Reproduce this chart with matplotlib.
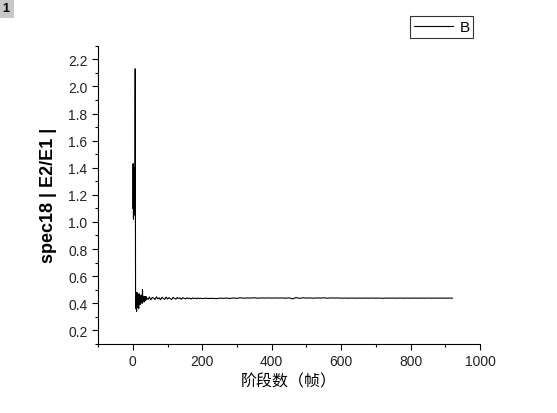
import numpy as np
import matplotlib
matplotlib.use('Agg')
import matplotlib.pyplot as plt
from matplotlib.ticker import MultipleLocator

plt.rcParams['font.family'] = ['Liberation Sans', 'Noto Sans CJK SC', 'DejaVu Sans']

# early frames, one per frame
early_x = list(range(0, 41))
early_y = [1.10, 1.43, 1.02, 1.40, 1.05, 1.38, 1.08, 2.13, 0.50, 0.36,
           0.45, 0.34, 0.48, 0.37, 0.46, 0.38, 0.44, 0.36, 0.47, 0.40,
           0.45, 0.39, 0.43, 0.40, 0.46, 0.41, 0.44, 0.40, 0.50, 0.41,
           0.45, 0.42, 0.44, 0.41, 0.45, 0.42, 0.44, 0.42, 0.45, 0.43,
           0.44]
# middle frames, every 4
mid_x = list(range(44, 200, 4))
mid_y = [0.428, 0.446, 0.425, 0.442, 0.438, 0.427, 0.447, 0.432, 0.440, 0.426,
         0.444, 0.435, 0.429, 0.445, 0.431, 0.441, 0.433, 0.428, 0.443, 0.436,
         0.430, 0.442, 0.434, 0.439, 0.429, 0.441, 0.436, 0.432, 0.440, 0.434,
         0.438, 0.431, 0.439, 0.435, 0.437, 0.433, 0.439, 0.434, 0.437]
# later frames, every 10
late_x = list(range(200, 930, 10))
late_y = [0.434, 0.437, 0.435, 0.436, 0.434, 0.437, 0.436, 0.438, 0.435, 0.439,
          0.436, 0.440, 0.437, 0.439, 0.438, 0.440, 0.437, 0.439, 0.438, 0.439,
          0.438, 0.439, 0.438, 0.439, 0.437, 0.440, 0.432, 0.442, 0.436, 0.440,
          0.438, 0.439, 0.437, 0.439, 0.438, 0.440, 0.437, 0.439, 0.438, 0.439,
          0.437, 0.438, 0.437, 0.438, 0.437, 0.438, 0.437, 0.438, 0.437, 0.438,
          0.437, 0.438, 0.436, 0.438, 0.437, 0.438, 0.437, 0.438, 0.437, 0.438,
          0.437, 0.438, 0.437, 0.438, 0.437, 0.438, 0.437, 0.438, 0.437, 0.438,
          0.437, 0.438, 0.437]

frames = np.array(early_x + mid_x + late_x)
values = np.array(early_y + mid_y + late_y)

fig = plt.figure(figsize=(5.57, 4.14), dpi=100)
ax = fig.add_axes([0.176, 0.167, 0.686, 0.72])
line, = ax.plot(frames, values, color='black', lw=0.8, label='B')

ax.set_xlim(-100, 1000)
ax.set_ylim(0.1, 2.3)
ax.xaxis.set_minor_locator(MultipleLocator(100))
ax.yaxis.set_minor_locator(MultipleLocator(0.1))
ax.set_xticks([0, 200, 400, 600, 800, 1000])
ax.set_yticks(np.arange(0.2, 2.21, 0.2))
ax.yaxis.set_major_formatter(matplotlib.ticker.FormatStrFormatter('%.1f'))
ax.tick_params(which='major', direction='out', length=4, width=0.8, labelsize=10,
               labelcolor='#222222')
ax.tick_params(which='minor', direction='out', length=2.5, width=0.8)
ax.spines['top'].set_visible(False)
ax.spines['right'].set_visible(False)

ax.set_xlabel('阶段数（帧）', fontsize=11.5, family=['Noto Sans CJK SC', 'DejaVu Sans'],
              labelpad=3)
ax.set_ylabel('spec18 | E2/E1 |', fontsize=13, fontweight='bold', labelpad=8)

leg = fig.legend(handles=[line], loc='upper left', bbox_to_anchor=(0.722, 0.977),
                 frameon=True, fancybox=False, edgecolor='black', fontsize=11,
                 handlelength=2.6, borderpad=0.25, handletextpad=0.4)
leg.get_frame().set_linewidth(0.8)

fig.text(0.004, 0.993, '1', fontsize=9, fontweight='bold', va='top', ha='left',
         bbox=dict(boxstyle='square,pad=0.35', fc='#c8c8c8', ec='none'))

fig.savefig('out.png', dpi=100)
